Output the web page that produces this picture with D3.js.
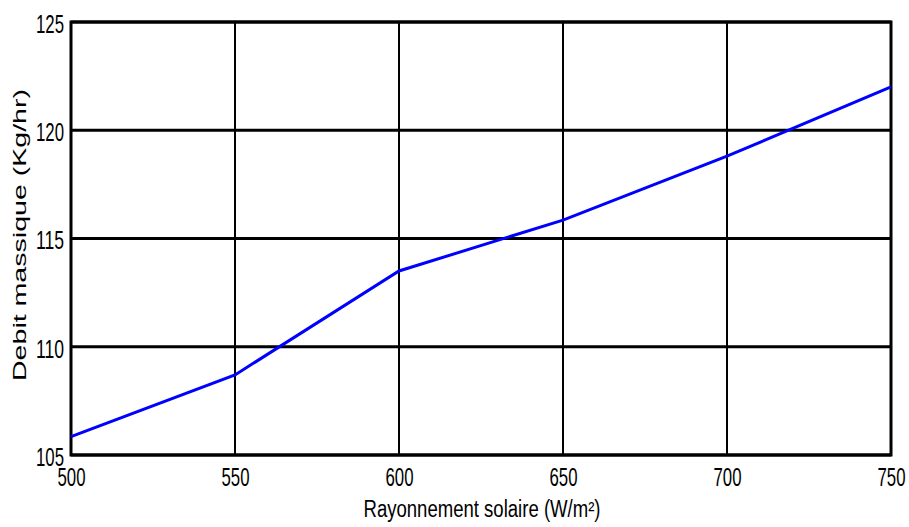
<!DOCTYPE html>
<html lang="en">
  <head>
    <meta charset="utf-8" />
    <script src="https://d3js.org/d3.v7.min.js"></script>
    <style>
      body { margin: 0; background: #fff; }
      text { font-family: "Liberation Sans", Arial, sans-serif; fill: #000; }
    </style>
  </head>
  <body>
    <script>
      // data
      var rayonnement = [500, 550, 600, 650, 700, 750];
      var debit = [105.85, 108.7, 113.5, 115.85, 118.8, 122.0];
      var xTicks = [500, 550, 600, 650, 700, 750];
      var yTicks = [105, 110, 115, 120, 125];

      var width = 909,
        height = 527;
      var margin = { top: 22, right: 18, bottom: 72, left: 71 };

      var svg = d3
        .select("body")
        .append("svg")
        .attr("width", width)
        .attr("height", height);

      var x = d3
        .scaleLinear()
        .domain([500, 750])
        .range([margin.left, width - margin.right]);
      var y = d3
        .scaleLinear()
        .domain([105, 125])
        .range([height - margin.bottom, margin.top]);

      // grid
      svg
        .append("g")
        .selectAll("line")
        .data(xTicks)
        .join("line")
        .attr("x1", function (d) { return x(d); })
        .attr("x2", function (d) { return x(d); })
        .attr("y1", y(105))
        .attr("y2", y(125))
        .attr("stroke", "#000")
        .attr("stroke-width", 2);
      svg
        .append("g")
        .selectAll("line")
        .data(yTicks)
        .join("line")
        .attr("x1", x(500))
        .attr("x2", x(750))
        .attr("y1", function (d) { return y(d); })
        .attr("y2", function (d) { return y(d); })
        .attr("stroke", "#000")
        .attr("stroke-width", 3);

      // frame
      svg
        .append("rect")
        .attr("x", x(500))
        .attr("y", y(125))
        .attr("width", x(750) - x(500))
        .attr("height", y(105) - y(125))
        .attr("fill", "none")
        .attr("stroke", "#000")
        .attr("stroke-width", 3);

      // tick labels, squeezed to look like a narrow font
      var xAxis = svg
        .append("g")
        .attr("transform", "translate(0," + y(105) + ")")
        .call(d3.axisBottom(x).tickValues(xTicks).tickSize(0).tickPadding(0));
      xAxis.selectAll("text")
        .attr("y", 31)
        .attr("dy", null);
      var yAxis = svg
        .append("g")
        .attr("transform", "translate(" + x(500) + ",0)")
        .call(d3.axisLeft(y).tickValues(yTicks).tickSize(0).tickPadding(7));
      yAxis.selectAll("text").attr("dy", "0.4em");
      [xAxis, yAxis].forEach(function (a) {
        a.select(".domain").remove();
        a.selectAll("text")
          .attr("font-family", null)
          .attr("font-size", null)
          .style("font-size", "26px")
          .attr("textLength", 28)
          .attr("lengthAdjust", "spacingAndGlyphs");
      });

      // line
      var line = d3
        .line()
        .x(function (d, i) { return x(rayonnement[i]); })
        .y(function (d) { return y(d); });
      svg
        .append("path")
        .datum(debit)
        .attr("d", line)
        .attr("fill", "none")
        .attr("stroke", "#0000ff")
        .attr("stroke-width", 3);

      // axis titles
      svg
        .append("text")
        .attr("x", 482)
        .attr("y", 517)
        .attr("text-anchor", "middle")
        .style("font-size", "23px")
        .attr("textLength", 237)
        .attr("lengthAdjust", "spacingAndGlyphs")
        .text("Rayonnement solaire (W/m²)");
      svg
        .append("text")
        .attr("transform", "translate(26,235) rotate(-90)")
        .attr("text-anchor", "middle")
        .style("font-size", "18px")
        .attr("textLength", 292)
        .attr("lengthAdjust", "spacingAndGlyphs")
        .text("Debit massique (Kg/hr)");
    </script>
  </body>
</html>
